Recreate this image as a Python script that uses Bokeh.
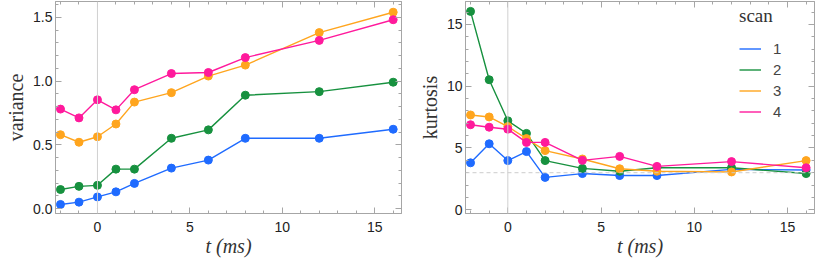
from bokeh.plotting import figure
from bokeh.layouts import row
from bokeh.models import LinearAxis, Span, Legend, LegendItem, FixedTicker, Range1d
from bokeh.embed import file_html
from bokeh.resources import INLINE

t = [-2, -1, 0, 1, 2, 4, 6, 8, 12, 16]
scans = ["1", "2", "3", "4"]
colors = ["#1f6bff", "#17913f", "#ffa51e", "#ff1a9c"]

variance = {
    "1": [0.033, 0.051, 0.092, 0.132, 0.198, 0.318, 0.381, 0.552, 0.552, 0.623],
    "2": [0.150, 0.175, 0.183, 0.310, 0.310, 0.552, 0.618, 0.890, 0.918, 0.992],
    "3": [0.580, 0.521, 0.564, 0.664, 0.836, 0.910, 1.040, 1.126, 1.381, 1.541],
    "4": [0.781, 0.712, 0.854, 0.775, 0.933, 1.060, 1.068, 1.185, 1.320, 1.482],
}
kurtosis = {
    "1": [3.80, 5.34, 3.98, 4.71, 2.62, 2.93, 2.77, 2.77, 3.27, 3.22],
    "2": [16.05, 10.52, 7.20, 6.18, 3.98, 3.35, 3.12, 3.40, 3.40, 2.93],
    "3": [7.67, 7.51, 6.73, 5.76, 4.79, 4.11, 3.32, 3.12, 3.06, 3.98],
    "4": [6.88, 6.68, 6.52, 5.45, 5.45, 4.00, 4.32, 3.51, 3.90, 3.40],
}

x_major = [0, 5, 10, 15]
x_minor = list(range(-2, 17))
var_major = [0.0, 0.5, 1.0, 1.5]
var_labels = {0.0: "0.0", 0.5: "0.5", 1.0: "1.0", 1.5: "1.5"}
var_minor = [i / 10 for i in range(0, 17)]
kurt_major = [0, 5, 10, 15]
kurt_minor = list(range(0, 17))

FRAME = "#a6a6a6"
SANS = "Liberation Sans"
SERIF = "Liberation Serif"


def style_axis(ax, major, minor, labels=True, overrides=None, standoff=3):
    ax.ticker = FixedTicker(ticks=major, minor_ticks=minor)
    ax.axis_line_color = FRAME
    ax.major_tick_line_color = FRAME
    ax.minor_tick_line_color = FRAME
    ax.major_tick_in = 6
    ax.major_tick_out = 0
    ax.minor_tick_in = 3
    ax.minor_tick_out = 0
    if labels:
        ax.major_label_text_font = SANS
        ax.major_label_text_font_size = "14px"
        ax.major_label_text_color = "#222222"
        ax.major_label_standoff = standoff
        if overrides:
            ax.major_label_overrides = overrides
    else:
        ax.major_label_overrides = {m: "" for m in major}
        ax.major_label_standoff = 0


def make(data, ylabel, yr, ymajor, yminor, fw, bl, br, ylab_over=None, legend=False, hline=None):
    p = figure(frame_width=fw, frame_height=212, output_backend="svg",
               toolbar_location=None, x_range=Range1d(-2.27, 16.45),
               y_range=Range1d(*yr), min_border_left=bl, min_border_right=br,
               min_border_top=1, min_border_bottom=0)
    p.outline_line_color = FRAME
    p.grid.visible = False
    p.background_fill_color = "white"
    bottom = p.below[0]
    left = p.left[0]
    style_axis(bottom, x_major, x_minor, standoff=8)
    style_axis(left, ymajor, yminor, overrides=ylab_over, standoff=3)
    top = LinearAxis()
    right = LinearAxis()
    style_axis(top, x_major, x_minor, labels=False)
    style_axis(right, ymajor, yminor, labels=False)
    p.add_layout(top, "above")
    p.add_layout(right, "right")

    bottom.axis_label = "t (ms)"
    bottom.axis_label_text_font = SERIF
    bottom.axis_label_text_font_style = "italic"
    bottom.axis_label_text_font_size = "20px"
    bottom.axis_label_text_color = "#333333"
    bottom.axis_label_standoff = 0
    left.axis_label = ylabel
    left.axis_label_text_font = SERIF
    left.axis_label_text_font_style = "normal"
    left.axis_label_text_font_size = "20px"
    left.axis_label_text_color = "#333333"
    left.axis_label_standoff = 3

    p.add_layout(Span(location=0, dimension="height", line_color="#d0d0d0", line_width=1))
    if hline is not None:
        p.add_layout(Span(location=hline, dimension="width", line_color="#cccccc",
                          line_width=1, line_dash="4 3"))

    items = []
    for s, c in zip(scans, colors):
        r = p.line(t, data[s], line_color=c, line_width=1.4)
        p.scatter(t, data[s], size=8, fill_color=c, line_color=c)
        items.append(LegendItem(label=s, renderers=[r]))
    if legend:
        lg = Legend(items=items, location=(274, 93), title="scan")
        lg.title_text_font = SERIF
        lg.title_text_font_size = "19px"
        lg.title_text_font_style = "normal"
        lg.title_text_color = "#333333"
        lg.title_standoff = 13
        lg.label_text_font = SANS
        lg.label_text_font_size = "15px"
        lg.label_standoff = 12
        lg.glyph_width = 22
        lg.glyph_height = 15
        lg.label_height = 15
        lg.spacing = 4
        lg.padding = 2
        lg.margin = 0
        lg.background_fill_alpha = 0
        lg.border_line_color = None
        p.add_layout(lg)
    return p


p1 = make(variance, "variance", (-0.038, 1.625), var_major, var_minor, 346, 55, 11,
          ylab_over=var_labels)
p2 = make(kurtosis, "kurtosis", (-0.3, 16.85), kurt_major, kurt_minor, 349, 53, 1,
          legend=True, hline=3)

layout = row(p1, p2)
open("out.html", "w").write(file_html(layout, INLINE))
